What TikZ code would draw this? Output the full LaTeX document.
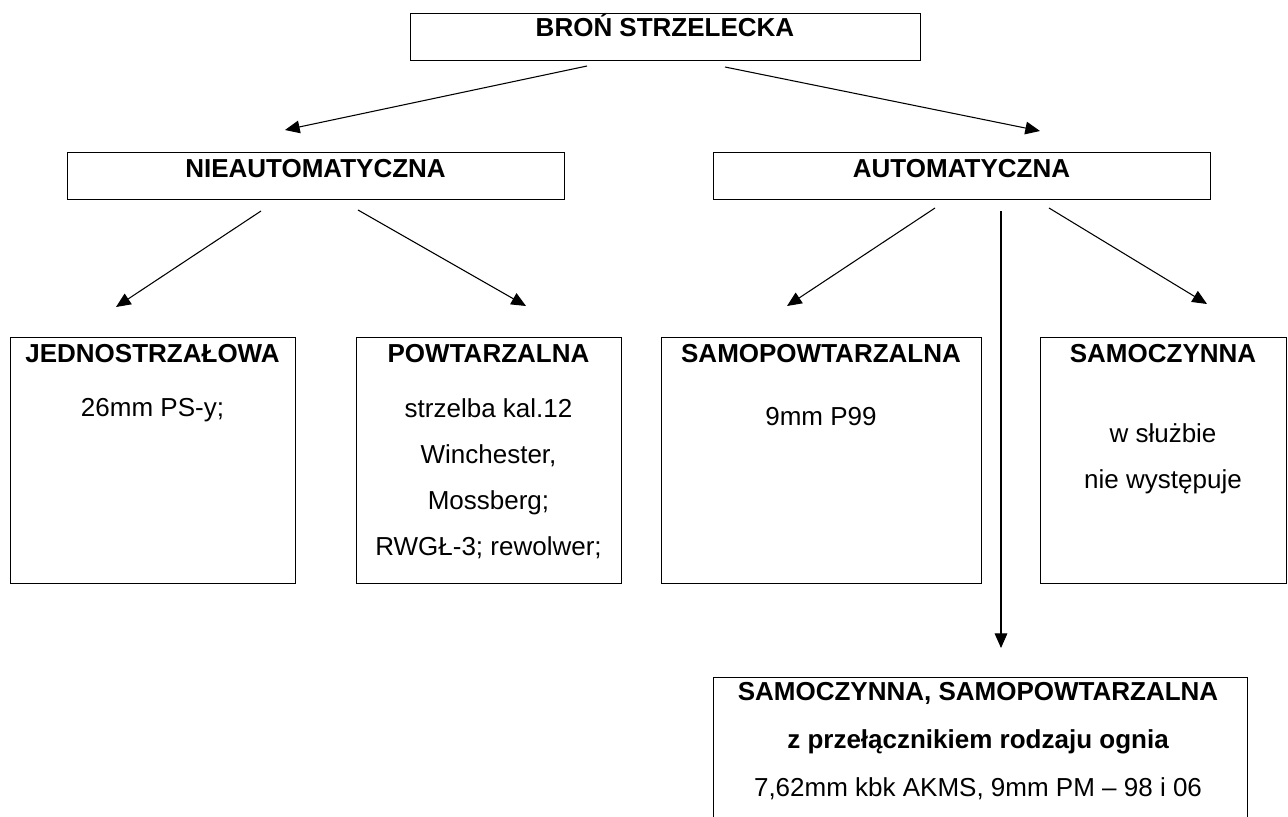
\documentclass[tikz,border=0pt]{standalone}
\usepackage{fontspec}
\setmainfont{Liberation Sans}
\usetikzlibrary{arrows.meta}
\begin{document}
\begin{tikzpicture}[x=0.75pt,y=-0.75pt,
  box/.style={draw, line width=0.8pt, rectangle, inner sep=0pt, anchor=north west},
  lbl/.style={anchor=base, inner sep=0pt, font=\fontsize{19.5}{23}\selectfont},
  ttl/.style={anchor=base, inner sep=0pt, font=\fontsize{19.5}{23}\selectfont\bfseries},
  arr/.style={line width=0.8pt, -{Triangle[length=11pt,width=9.5pt]}}]
\clip (0,0) rectangle (1288,817);
\fill[white] (0,0) rectangle (1288,817);
% boxes
\node[box, minimum width=382.5pt, minimum height=35.25pt] (top) at (410,13) {};
\node[box, minimum width=372.75pt, minimum height=35.25pt] (nie) at (67,152) {};
\node[box, minimum width=372.75pt, minimum height=35.25pt] (aut) at (713,152) {};
\node[box, minimum width=213.75pt, minimum height=184.5pt] (jed) at (10,337) {};
\node[box, minimum width=198.75pt, minimum height=184.5pt] (pow) at (356,337) {};
\node[box, minimum width=240pt, minimum height=184.5pt] (sap) at (661,337) {};
\node[box, minimum width=184.5pt, minimum height=184.5pt] (sac) at (1040,337) {};
\node[box, minimum width=400.5pt, minimum height=114.75pt] (prz) at (713,677) {};
% texts
\node[ttl] (ttop) at (665,37) {BROŃ STRZELECKA};
\node[ttl] (tnie) at (315.5,177) {NIEAUTOMATYCZNA};
\node[ttl] (taut) at (961.5,177) {AUTOMATYCZNA};
\node[ttl] (tjed) at (152.5,362) {JEDNOSTRZAŁOWA};
\node[lbl] (jed1) at (152.5,416) {26mm PS-y;};
\node[ttl] (tpow) at (488.5,362) {POWTARZALNA};
\node[lbl] (pow1) at (488.5,417) {strzelba kal.12};
\node[lbl] (pow2) at (488.5,463) {Winchester,};
\node[lbl] (pow3) at (488.5,509) {Mossberg;};
\node[lbl] (pow4) at (488.5,555) {RWGŁ-3; rewolwer;};
\node[ttl] (tsap) at (821,362) {SAMOPOWTARZALNA};
\node[lbl] (sap1) at (821,425) {9mm P99};
\node[ttl] (tsac) at (1163,362) {SAMOCZYNNA};
\node[lbl] (sac1) at (1163,442) {w służbie};
\node[lbl] (sac2) at (1163,488) {nie występuje};
\node[ttl] (tprz) at (978,700) {SAMOCZYNNA, SAMOPOWTARZALNA};
\node[ttl] (prz1) at (978,748) {z przełącznikiem rodzaju ognia};
\node[lbl] (prz2) at (978,796) {7,62mm kbk AKMS, 9mm PM – 98 i 06};
% connector ends
\coordinate (a1s) at (587,66);   \coordinate (a1e) at (285,130);
\coordinate (a2s) at (725,67);   \coordinate (a2e) at (1040,131);
\coordinate (a3s) at (261,211);  \coordinate (a3e) at (116,307);
\coordinate (a4s) at (358,210);  \coordinate (a4e) at (526,306);
\coordinate (a5s) at (935,208);  \coordinate (a5e) at (787,306);
\coordinate (a6s) at (1049,208); \coordinate (a6e) at (1207,304);
\coordinate (a7s) at (1001,211); \coordinate (a7e) at (1001,648);
\draw[arr] (a1s) -- (a1e);
\draw[arr] (a2s) -- (a2e);
\draw[arr] (a3s) -- (a3e);
\draw[arr] (a4s) -- (a4e);
\draw[arr] (a5s) -- (a5e);
\draw[arr] (a6s) -- (a6e);
\draw[arr] (a7s) -- (a7e);
\end{tikzpicture}
\end{document}
